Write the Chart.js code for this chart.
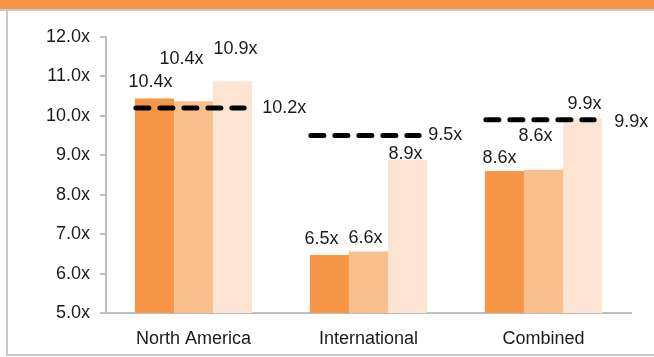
<!DOCTYPE html>
<html>
<head>
<meta charset="utf-8">
<script src="https://cdn.jsdelivr.net/npm/chart.js@4"></script>
<style>
  html, body { margin: 0; padding: 0; background: #fff; }
  #wrap { position: relative; width: 654px; height: 357px; overflow: hidden; }
  #band { position: absolute; left: 0; top: 0; width: 654px; height: 9px; background: #F79646; border-bottom: 2px solid #C8C8C8; }
  #frame { position: absolute; left: 6px; top: 11px; width: 660px; height: 343px; border-left: 2px solid #C8C8C8; border-bottom: 2px solid #C8C8C8; }
  canvas { position: absolute; left: 0; top: 0; }
</style>
</head>
<body>
<div id="wrap">
  <div id="band"></div>
  <div id="frame"></div>
  <canvas id="chart" width="654" height="357"></canvas>
</div>
<script>
var categories = ['North America', 'International', 'Combined'];
var series1 = [10.44, 6.47, 8.60];
var series2 = [10.37, 6.56, 8.63];
var series3 = [10.88, 8.88, 9.93];
var averages = [10.2, 9.5, 9.9];
var yTicks = [5, 6, 7, 8, 9, 10, 11, 12];

var colors = ['#F79646', '#F9BF8D', '#FDE4D2'];
var FONT = "'Liberation Sans', Arial, sans-serif";
var catPct = 0.67;

// nudges for the value labels (px), per series, per category
var labelNudge = [
  [[-4, -16], [-8, -16], [-5, -13]],
  [[-12, -42], [-3, -13], [-8, -34]],
  [[3, -32], [-2, -6], [2, -15]]
];
var avgLabelGap = [18, 9, 20];
var avgLabelDy = [0, -1, 2];

var barSets = [series1, series2, series3].map(function(s, k) {
  return {
    label: 'S' + (k + 1),
    data: s,
    backgroundColor: colors[k],
    borderWidth: 0,
    categoryPercentage: catPct,
    barPercentage: 1.0
  };
});

// dashed average line over each bar group + value labels
var overlayPlugin = {
  id: 'overlayPlugin',
  afterDatasetsDraw: function(chart) {
    var ctx = chart.ctx;
    var y = chart.scales.y;
    var first = chart.getDatasetMeta(0).data;
    var last = chart.getDatasetMeta(2).data;
    ctx.save();
    ctx.strokeStyle = '#000';
    ctx.lineWidth = 5;
    ctx.lineCap = 'round';
    ctx.setLineDash([13, 11]);
    var ends = [];
    averages.forEach(function(v, i) {
      var x0 = first[i].x - first[i].width / 2 + 1;
      var x1 = last[i].x + last[i].width / 2 - 8;
      var py = y.getPixelForValue(v);
      ctx.beginPath();
      ctx.moveTo(x0, py);
      ctx.lineTo(x1, py);
      ctx.stroke();
      ends.push([x1, py]);
    });
    ctx.setLineDash([]);

    ctx.font = '18px ' + FONT;
    ctx.fillStyle = '#1a1a1a';
    ctx.textBaseline = 'middle';
    ctx.textAlign = 'left';
    averages.forEach(function(v, i) {
      ctx.fillText(v.toFixed(1) + 'x', ends[i][0] + avgLabelGap[i], ends[i][1] + avgLabelDy[i]);
    });
    ctx.textAlign = 'center';
    chart.data.datasets.forEach(function(ds, di) {
      chart.getDatasetMeta(di).data.forEach(function(bar, j) {
        var n = labelNudge[di][j];
        ctx.fillText(ds.data[j].toFixed(1) + 'x', bar.x + n[0], bar.y + n[1]);
      });
    });
    ctx.restore();
  }
};

new Chart(document.getElementById('chart'), {
  type: 'bar',
  data: {
    labels: categories,
    datasets: barSets
  },
  options: {
    responsive: false,
    animation: false,
    layout: { padding: { top: 37, right: 23, bottom: 0, left: 0 } },
    plugins: { legend: { display: false }, tooltip: { enabled: false } },
    scales: {
      x: {
        grid: { display: false },
        border: { display: true, color: '#BFBFBF', width: 2 },
        ticks: { font: { family: FONT, size: 18 }, color: '#1a1a1a', padding: 7, maxRotation: 0 },
        afterFit: function(scale) { scale.height = 44; }
      },
      y: {
        min: 5,
        max: 12,
        afterBuildTicks: function(scale) {
          scale.ticks = yTicks.map(function(v) { return { value: v }; });
        },
        grid: { drawOnChartArea: false, drawTicks: true, tickLength: 6, color: '#BFBFBF', lineWidth: 2 },
        border: { display: true, color: '#BFBFBF', width: 2 },
        ticks: {
          font: { family: FONT, size: 18 },
          color: '#1a1a1a',
          padding: 10,
          callback: function(v) { return Number(v).toFixed(1) + 'x'; }
        },
        afterFit: function(scale) { scale.width = 106; }
      }
    }
  },
  plugins: [overlayPlugin]
});
</script>
</body>
</html>
